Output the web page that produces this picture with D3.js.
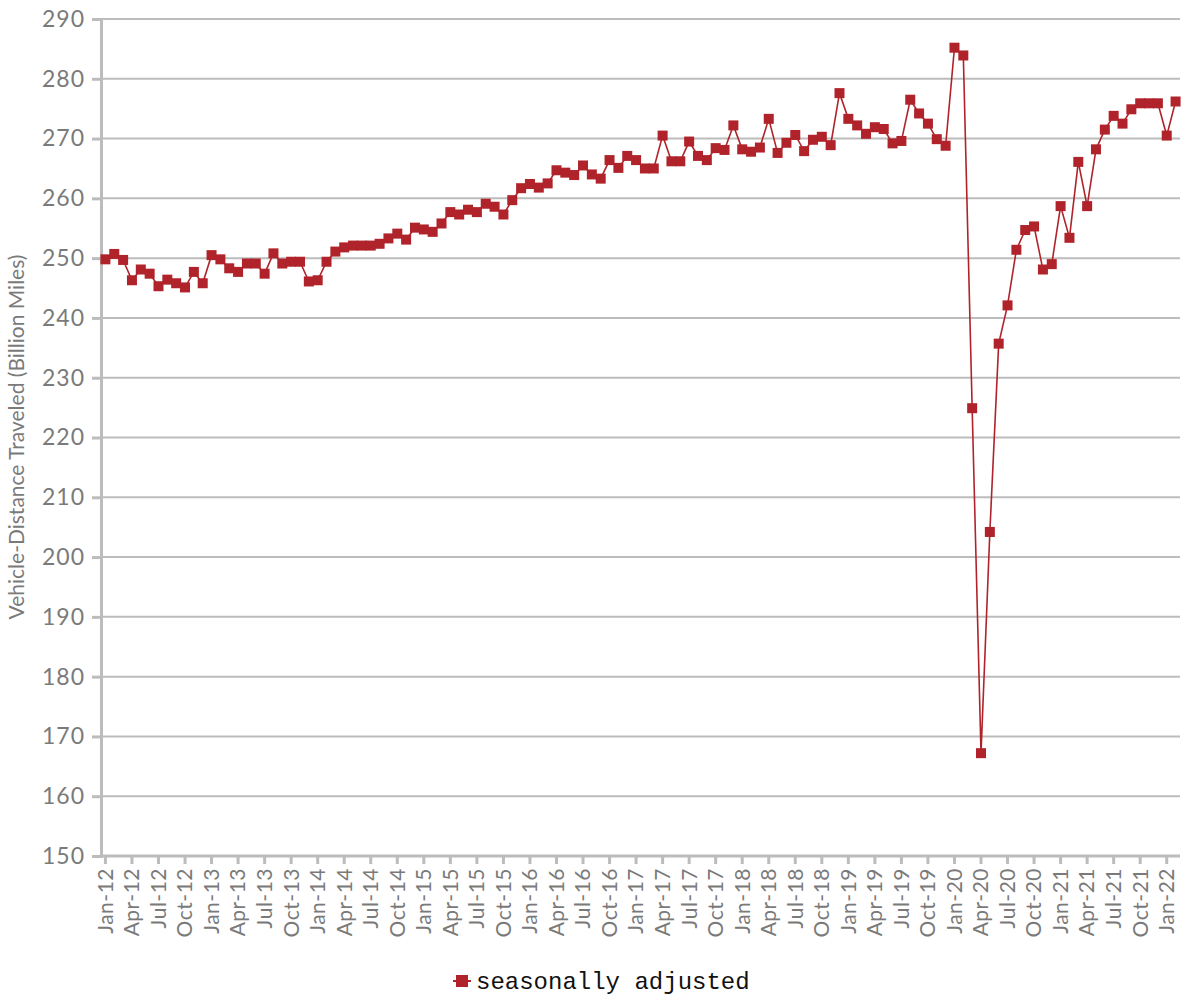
<!DOCTYPE html>
<html>
<head>
<meta charset="utf-8">
<script src="https://cdn.jsdelivr.net/npm/d3@7"></script>
<style>
  html, body { margin: 0; padding: 0; background: #fff; }
  svg { display: block; }
</style>
</head>
<body>
<svg id="chart" width="1200" height="1000"></svg>
<script>
// ---- data ----
const monthNames = ["Jan","Feb","Mar","Apr","May","Jun","Jul","Aug","Sep","Oct","Nov","Dec"];
const years = ["12","13","14","15","16","17","18","19","20","21","22"];
const categories = [];
years.forEach(y => monthNames.forEach(m => categories.push(m + "-" + y)));
categories.length = 122; // Jan-12 .. Feb-22

const values2012 = [249.8, 250.7, 249.7, 246.3, 248.1, 247.4, 245.3, 246.4, 245.8, 245.1, 247.7, 245.8];
const values2013 = [250.5, 249.8, 248.3, 247.7, 249.1, 249.1, 247.4, 250.8, 249.1, 249.4, 249.4, 246.1];
const values2014 = [246.3, 249.4, 251.1, 251.8, 252.1, 252.1, 252.1, 252.4, 253.3, 254.1, 253.1, 255.1];
const values2015 = [254.8, 254.4, 255.8, 257.7, 257.3, 258.1, 257.7, 259.1, 258.6, 257.3, 259.7, 261.7];
const values2016 = [262.4, 261.8, 262.5, 264.7, 264.3, 263.9, 265.5, 264.0, 263.3, 266.4, 265.1, 267.1];
const values2017 = [266.4, 265.0, 265.0, 270.5, 266.2, 266.2, 269.5, 267.1, 266.4, 268.4, 268.1, 272.2];
const values2018 = [268.2, 267.8, 268.5, 273.3, 267.6, 269.3, 270.6, 267.9, 269.8, 270.3, 268.9, 277.6];
const values2019 = [273.3, 272.2, 270.8, 271.9, 271.6, 269.2, 269.6, 276.5, 274.2, 272.5, 269.9, 268.8];
const values2020 = [285.2, 283.9, 224.9, 167.2, 204.2, 235.7, 242.1, 251.4, 254.7, 255.3, 248.1, 249.0];
const values2021 = [258.7, 253.4, 266.1, 258.7, 268.2, 271.5, 273.8, 272.5, 274.9, 275.9, 275.9, 275.9];
const values2022 = [270.5, 276.2];
const seriesValues = [].concat(values2012, values2013, values2014, values2015, values2016,
  values2017, values2018, values2019, values2020, values2021, values2022);

const yTicks = [150,160,170,180,190,200,210,220,230,240,250,260,270,280,290];
const xTickLabels = categories.filter((d, i) => i % 3 === 0);
const seriesName = "seasonally adjusted";
const yTitle = "Vehicle-Distance Traveled (Billion Miles)";

// ---- layout ----
const svg = d3.select("#chart");
const mLeft = 101, mRight = 1180, mTop = 19, mBottom = 856;
const gray = "#bcbcbc", textGray = "#7a7a7a", red = "#b0232a";

const x = d3.scaleBand().domain(categories).range([mLeft, mRight]).padding(0);
const y = d3.scaleLinear().domain([150, 290]).range([mBottom, mTop]);
const cx = d => x(d) + x.bandwidth() / 2;

// gridlines
svg.append("g").selectAll("line").data(yTicks.filter(t => t !== 150)).join("line")
  .attr("x1", mLeft).attr("x2", mRight)
  .attr("y1", d => y(d)).attr("y2", d => y(d))
  .attr("stroke", gray).attr("stroke-width", 2);

// y axis
const yAxis = svg.append("g").attr("transform", `translate(${mLeft},0)`)
  .call(d3.axisLeft(y).tickValues(yTicks).tickSize(9).tickPadding(7).tickFormat(d3.format("d")));
yAxis.select(".domain").attr("stroke", gray).attr("stroke-width", 3);
yAxis.selectAll(".tick line").attr("stroke", gray).attr("stroke-width", 3);
yAxis.selectAll(".tick text").attr("fill", textGray)
  .style("font-family", "Lato, 'Open Sans', sans-serif").style("font-size", "23px")
  .style("letter-spacing", "1px");

// x axis
const xAxis = svg.append("g").attr("transform", `translate(0,${mBottom})`)
  .call(d3.axisBottom(x).tickValues(xTickLabels).tickSize(8).tickPadding(6));
xAxis.select(".domain").attr("stroke", gray).attr("stroke-width", 3)
  .attr("d", `M${mLeft},0H${mRight}`);
xAxis.selectAll(".tick line").attr("stroke", gray).attr("stroke-width", 3);
xAxis.selectAll(".tick text")
  .attr("fill", textGray)
  .style("font-family", "Lato, 'Open Sans', sans-serif").style("font-size", "21px")
  .style("letter-spacing", "0.5px")
  .attr("transform", "rotate(-90)")
  .attr("text-anchor", "end")
  .attr("x", -12).attr("y", 0).attr("dy", "0.35em");

// y title
svg.append("text")
  .attr("transform", `translate(24,437) rotate(-90)`)
  .attr("text-anchor", "middle")
  .attr("fill", textGray)
  .style("font-family", "Lato, 'Open Sans', sans-serif").style("font-size", "21px")
  .text(yTitle);

// line
const data = categories.map((c, i) => ({ c, v: seriesValues[i] }));
svg.append("path").datum(data)
  .attr("fill", "none").attr("stroke", red).attr("stroke-width", 1.6)
  .attr("d", d3.line().x(d => cx(d.c)).y(d => y(d.v)));

// markers
const ms = 10;
svg.append("g").selectAll("rect").data(data).join("rect")
  .attr("x", d => cx(d.c) - ms / 2).attr("y", d => y(d.v) - ms / 2)
  .attr("width", ms).attr("height", ms).attr("fill", red);

// legend
const lg = svg.append("g").attr("transform", "translate(462,981)");
lg.append("line").attr("x1", -9).attr("x2", 9).attr("stroke", red).attr("stroke-width", 2);
lg.append("rect").attr("x", -6).attr("y", -6).attr("width", 12).attr("height", 12).attr("fill", red);
lg.append("text").attr("x", 14).attr("dy", "0.35em")
  .attr("fill", "#111")
  .style("font-family", "'Liberation Mono', 'Courier New', monospace").style("font-size", "24px")
  .text(seriesName);
</script>
</body>
</html>
